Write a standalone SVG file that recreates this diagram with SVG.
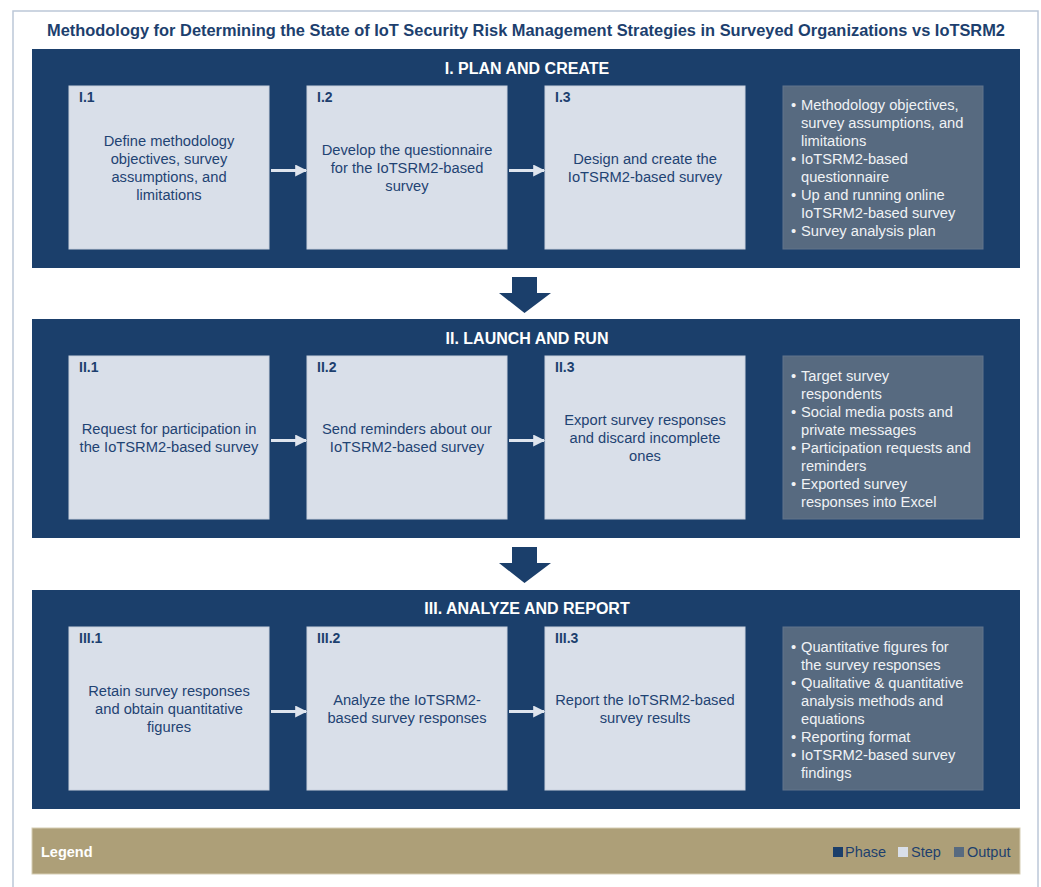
<svg xmlns="http://www.w3.org/2000/svg" width="1041" height="887" viewBox="0 0 1041 887">
<style>
.phase{fill:#1b3f6b}
.step{fill:#d9dfe9;stroke:#c9d1de;stroke-width:1}
.out{fill:#576a80;stroke:#62758b;stroke-width:1}
.ptitle{font-family:"Liberation Sans",Arial,sans-serif;font-weight:bold;font-size:16px;fill:#ffffff;text-anchor:middle}
.sid{font-family:"Liberation Sans",Arial,sans-serif;font-weight:bold;font-size:14px;fill:#1d3f6e}
.stxt{font-family:"Liberation Sans",Arial,sans-serif;font-size:14.7px;fill:#1f4373;text-anchor:middle}
.otxt{font-family:"Liberation Sans",Arial,sans-serif;font-size:14.7px;fill:#f0f2f5}
.conn{stroke:#dfe5ee;stroke-width:3;fill:none}
.down{fill:#1b3f6b}
.leg{font-family:"Liberation Sans",Arial,sans-serif;font-size:14.5px;fill:#1d3f6e}
</style>
<defs>
<marker id="ah" viewBox="0 0 10 10" refX="9" refY="5" markerWidth="4.5" markerHeight="4" orient="auto" markerUnits="strokeWidth">
<path d="M0,0 L10,5 L0,10 Z" fill="#dfe5ee"/>
</marker>
</defs>
<rect x="13" y="11" width="1025" height="880" fill="#ffffff" stroke="#bcc7d8" stroke-width="1.5"/>
<text x="526" y="36" font-family="'Liberation Sans',Arial,sans-serif" font-weight="bold" font-size="16.5" fill="#1d3f6e" text-anchor="middle" textLength="958" lengthAdjust="spacingAndGlyphs">Methodology for Determining the State of IoT Security Risk Management Strategies in Surveyed Organizations vs IoTSRM2</text>

<g id="phase1">
<rect class="phase" x="32" y="49" width="988" height="219"/>
<text class="ptitle" x="527" y="74">I. PLAN AND CREATE</text>
</g>
<g id="step-I1">
<rect class="step" x="69" y="86" width="200" height="163"/>
<text class="sid" x="79" y="102">I.1</text>
<text class="stxt"><tspan x="169" y="146">Define methodology</tspan><tspan x="169" y="164">objectives, survey</tspan><tspan x="169" y="182">assumptions, and</tspan><tspan x="169" y="200">limitations</tspan></text>
</g>
<g id="step-I2">
<rect class="step" x="307" y="86" width="200" height="163"/>
<text class="sid" x="317" y="102">I.2</text>
<text class="stxt"><tspan x="407" y="155">Develop the questionnaire</tspan><tspan x="407" y="173">for the IoTSRM2-based</tspan><tspan x="407" y="191">survey</tspan></text>
</g>
<g id="step-I3">
<rect class="step" x="545" y="86" width="200" height="163"/>
<text class="sid" x="555" y="102">I.3</text>
<text class="stxt"><tspan x="645" y="164">Design and create the</tspan><tspan x="645" y="182">IoTSRM2-based survey</tspan></text>
</g>
<g id="output-I">
<rect class="out" x="783" y="86" width="200" height="163"/>
<text class="otxt"><tspan x="791" y="110">•</tspan><tspan x="801" y="110">Methodology objectives,</tspan><tspan x="801" y="128">survey assumptions, and</tspan><tspan x="801" y="146">limitations</tspan><tspan x="791" y="164">•</tspan><tspan x="801" y="164">IoTSRM2-based</tspan><tspan x="801" y="182">questionnaire</tspan><tspan x="791" y="200">•</tspan><tspan x="801" y="200">Up and running online</tspan><tspan x="801" y="218">IoTSRM2-based survey</tspan><tspan x="791" y="236">•</tspan><tspan x="801" y="236">Survey analysis plan</tspan></text>
</g>

<g id="phase2">
<rect class="phase" x="32" y="319" width="988" height="219"/>
<text class="ptitle" x="527" y="344">II. LAUNCH AND RUN</text>
</g>
<g id="step-II1">
<rect class="step" x="69" y="356" width="200" height="163"/>
<text class="sid" x="79" y="372">II.1</text>
<text class="stxt"><tspan x="169" y="434">Request for participation in</tspan><tspan x="169" y="452">the IoTSRM2-based survey</tspan></text>
</g>
<g id="step-II2">
<rect class="step" x="307" y="356" width="200" height="163"/>
<text class="sid" x="317" y="372">II.2</text>
<text class="stxt"><tspan x="407" y="434">Send reminders about our</tspan><tspan x="407" y="452">IoTSRM2-based survey</tspan></text>
</g>
<g id="step-II3">
<rect class="step" x="545" y="356" width="200" height="163"/>
<text class="sid" x="555" y="372">II.3</text>
<text class="stxt"><tspan x="645" y="425">Export survey responses</tspan><tspan x="645" y="443">and discard incomplete</tspan><tspan x="645" y="461">ones</tspan></text>
</g>
<g id="output-II">
<rect class="out" x="783" y="356" width="200" height="163"/>
<text class="otxt"><tspan x="791" y="381">•</tspan><tspan x="801" y="381">Target survey</tspan><tspan x="801" y="399">respondents</tspan><tspan x="791" y="417">•</tspan><tspan x="801" y="417">Social media posts and</tspan><tspan x="801" y="435">private messages</tspan><tspan x="791" y="453">•</tspan><tspan x="801" y="453">Participation requests and</tspan><tspan x="801" y="471">reminders</tspan><tspan x="791" y="489">•</tspan><tspan x="801" y="489">Exported survey</tspan><tspan x="801" y="507">responses into Excel</tspan></text>
</g>

<g id="phase3">
<rect class="phase" x="32" y="590" width="988" height="219"/>
<text class="ptitle" x="527" y="614">III. ANALYZE AND REPORT</text>
</g>
<g id="step-III1">
<rect class="step" x="69" y="627" width="200" height="163"/>
<text class="sid" x="79" y="643">III.1</text>
<text class="stxt"><tspan x="169" y="696">Retain survey responses</tspan><tspan x="169" y="714">and obtain quantitative</tspan><tspan x="169" y="732">figures</tspan></text>
</g>
<g id="step-III2">
<rect class="step" x="307" y="627" width="200" height="163"/>
<text class="sid" x="317" y="643">III.2</text>
<text class="stxt"><tspan x="407" y="705">Analyze the IoTSRM2-</tspan><tspan x="407" y="723">based survey responses</tspan></text>
</g>
<g id="step-III3">
<rect class="step" x="545" y="627" width="200" height="163"/>
<text class="sid" x="555" y="643">III.3</text>
<text class="stxt"><tspan x="645" y="705">Report the IoTSRM2-based</tspan><tspan x="645" y="723">survey results</tspan></text>
</g>
<g id="output-III">
<rect class="out" x="783" y="627" width="200" height="163"/>
<text class="otxt"><tspan x="791" y="652">•</tspan><tspan x="801" y="652">Quantitative figures for</tspan><tspan x="801" y="670">the survey responses</tspan><tspan x="791" y="688">•</tspan><tspan x="801" y="688">Qualitative &amp; quantitative</tspan><tspan x="801" y="706">analysis methods and</tspan><tspan x="801" y="724">equations</tspan><tspan x="791" y="742">•</tspan><tspan x="801" y="742">Reporting format</tspan><tspan x="791" y="760">•</tspan><tspan x="801" y="760">IoTSRM2-based survey</tspan><tspan x="801" y="778">findings</tspan></text>
</g>

<g id="connectors">
<line class="conn" x1="271" y1="170.5" x2="306" y2="170.5" marker-end="url(#ah)"/>
<line class="conn" x1="509" y1="170.5" x2="544" y2="170.5" marker-end="url(#ah)"/>
<line class="conn" x1="271" y1="440.5" x2="306" y2="440.5" marker-end="url(#ah)"/>
<line class="conn" x1="509" y1="440.5" x2="544" y2="440.5" marker-end="url(#ah)"/>
<line class="conn" x1="271" y1="711.5" x2="306" y2="711.5" marker-end="url(#ah)"/>
<line class="conn" x1="509" y1="711.5" x2="544" y2="711.5" marker-end="url(#ah)"/>
<polygon class="down" points="512,277 537,277 537,293 551,293 524.5,313 499,293 512,293"/>
<polygon class="down" points="512,547 537,547 537,563 551,563 524.5,583 499,563 512,563"/>
</g>

<g id="legend">
<rect x="32" y="828" width="988" height="46" fill="#ad9f78" stroke="#d6cdb3" stroke-width="1"/>
<text x="41" y="857" font-family="'Liberation Sans',Arial,sans-serif" font-weight="bold" font-size="14.5" fill="#ffffff">Legend</text>
<rect x="833" y="847" width="10" height="10" fill="#1b3f6b"/>
<text class="leg" x="845" y="857">Phase</text>
<rect x="898" y="847" width="10" height="10" fill="#d9dfe9"/>
<text class="leg" x="911" y="857">Step</text>
<rect x="954" y="847" width="10" height="10" fill="#576a80"/>
<text class="leg" x="967" y="857">Output</text>
</g>
</svg>
